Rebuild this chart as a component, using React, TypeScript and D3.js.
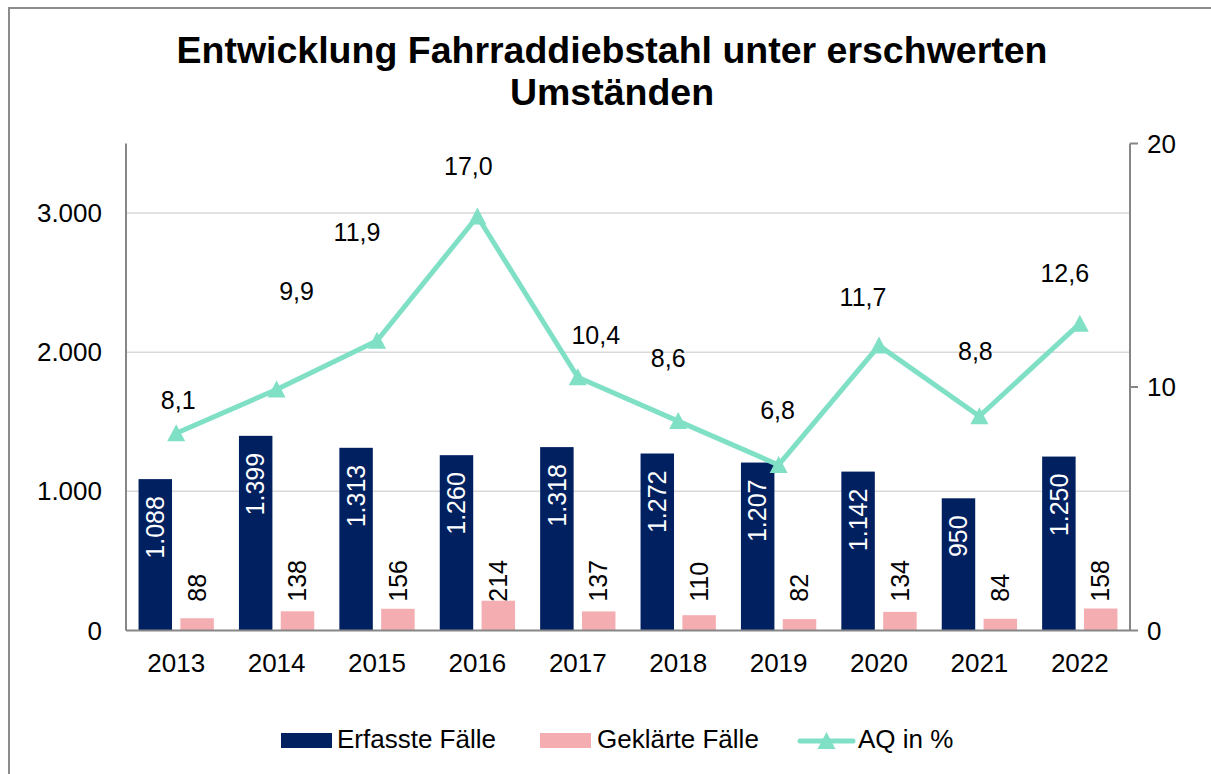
import React from "react";
import * as d3 from "d3";

const years = ["2013", "2014", "2015", "2016", "2017", "2018", "2019", "2020", "2021", "2022"];
const erfasst = [1088, 1399, 1313, 1260, 1318, 1272, 1207, 1142, 950, 1250];
const geklaert = [88, 138, 156, 214, 137, 110, 82, 134, 84, 158];
const aq = [8.1, 9.9, 11.9, 17.0, 10.4, 8.6, 6.8, 11.7, 8.8, 12.6];
const leftTicks = [0, 1000, 2000, 3000];
const rightTicks = [0, 10, 20];
const titleLines = ["Entwicklung Fahrraddiebstahl unter erschwerten", "Umständen"];
const legendItems = ["Erfasste Fälle", "Geklärte Fälle", "AQ in %"];

// manual label placement (layout, relative to point)
const aqLabelDx = [2, 20, -20, -9, 18, -10, -1, -16, -4, -15];
const aqLabelDy = [-33, -98, -108, -50, -42, -63, -55, -48, -65, -50];

const NAVY = "#002060";
const PINK = "#F4ADB0";
const AQUA = "#80E0C6";
const AXIS = "#868686";
const GRID = "#D9D9D9";
const FONT = "'Liberation Sans', Arial, sans-serif";

const de = d3.formatLocale({ decimal: ",", thousands: ".", grouping: [3], currency: ["", "€"] });
const fInt = de.format(",d");
const fDec = de.format(",.1f");

const tri = "M0,-9L9,8L-9,8Z";

export default function App() {
  const left = 126, right = 1130, top = 143.5, bottom = 630.5;
  const x = d3.scaleBand<string>().domain(years).range([left, right]);
  const xs = d3.scaleBand<string>().domain(["e", "g"]).range([0, x.bandwidth()]).paddingInner(0.2).paddingOuter(0.3);
  const yL = d3.scaleLinear().domain([0, 3500]).range([bottom, top]);
  const yR = d3.scaleLinear().domain([0, 20]).range([bottom, top]);
  const cx = (y: string) => (x(y) as number) + x.bandwidth() / 2;

  const line = d3.line<number>().x((_, i) => cx(years[i])).y((d) => yR(d));
  const pinkLabelY = yL(d3.max(geklaert) as number) + 1;

  return (
    <svg width={1211} height={774} style={{ position: "absolute", left: 0, top: 0 }} fontFamily={FONT}>
      <rect x={0} y={0} width={1211} height={774} fill="#fff" />
      <rect x={9} y={8} width={1300} height={900} fill="none" stroke="#8C8C8C" strokeWidth={2} />
      {titleLines.map((t, i) => (
        <text key={i} x={612} y={63 + i * 42} textAnchor="middle" fontSize={37.5} fontWeight="bold" fill="#000">
          {t}
        </text>
      ))}
      {leftTicks.filter((t) => t > 0).map((t) => (
        <line key={t} x1={left} x2={right} y1={yL(t)} y2={yL(t)} stroke={GRID} strokeWidth={1.5} />
      ))}
      {/* bars */}
      {years.map((y, i) => (
        <g key={y}>
          <rect x={(x(y) as number) + (xs("e") as number)} y={yL(erfasst[i])} width={xs.bandwidth()} height={bottom - yL(erfasst[i])} fill={NAVY} />
          <rect x={(x(y) as number) + (xs("g") as number)} y={yL(geklaert[i])} width={xs.bandwidth()} height={bottom - yL(geklaert[i])} fill={PINK} />
          <text
            transform={`translate(${(x(y) as number) + (xs("e") as number) + xs.bandwidth() / 2},${yL(erfasst[i]) + 17}) rotate(-90)`}
            textAnchor="end" dy="0.35em" fontSize={25} fill="#fff"
          >
            {fInt(erfasst[i])}
          </text>
          <text
            transform={`translate(${(x(y) as number) + (xs("g") as number) + xs.bandwidth() / 2},${pinkLabelY}) rotate(-90)`}
            textAnchor="start" dy="0.35em" fontSize={25} fill="#000"
          >
            {fInt(geklaert[i])}
          </text>
          <text x={cx(y)} y={672} textAnchor="middle" fontSize={26} fill="#000">{y}</text>
        </g>
      ))}
      {/* axes */}
      <line x1={left} x2={left} y1={top} y2={bottom} stroke={AXIS} strokeWidth={2} />
      <line x1={right} x2={right} y1={top} y2={bottom} stroke={AXIS} strokeWidth={2} />
      <line x1={left} x2={right} y1={bottom} y2={bottom} stroke={AXIS} strokeWidth={2} />
      {leftTicks.map((t) => (
        <text key={t} x={102} y={yL(t)} dy="0.35em" textAnchor="end" fontSize={26} fill="#000">{fInt(t)}</text>
      ))}
      {rightTicks.map((t) => (
        <g key={t}>
          <line x1={right} x2={right + 8} y1={yR(t)} y2={yR(t)} stroke={AXIS} strokeWidth={2} />
          <text x={1147} y={yR(t)} dy="0.35em" textAnchor="start" fontSize={26} fill="#000">{t}</text>
        </g>
      ))}
      {/* line */}
      <path d={line(aq) as string} fill="none" stroke={AQUA} strokeWidth={5} strokeLinejoin="round" />
      {aq.map((v, i) => (
        <path key={i} d={tri} transform={`translate(${cx(years[i])},${yR(v)})`} fill={AQUA} />
      ))}
      {aq.map((v, i) => (
        <text key={i} x={cx(years[i]) + aqLabelDx[i]} y={yR(v) + aqLabelDy[i]} dy="0.35em" textAnchor="middle" fontSize={25} fill="#000">
          {fDec(v)}
        </text>
      ))}
      {/* legend */}
      <rect x={281} y={733} width={51} height={15} fill={NAVY} />
      <text x={337} y={748} fontSize={26} fill="#000">{legendItems[0]}</text>
      <rect x={540} y={733} width={51} height={15} fill={PINK} />
      <text x={597} y={748} fontSize={26} fill="#000">{legendItems[1]}</text>
      <line x1={800} x2={853} y1={741} y2={741} stroke={AQUA} strokeWidth={5} strokeLinecap="round" />
      <path d={tri} transform="translate(826.5,741)" fill={AQUA} />
      <text x={858} y={748} fontSize={26} fill="#000">{legendItems[2]}</text>
    </svg>
  );
}
